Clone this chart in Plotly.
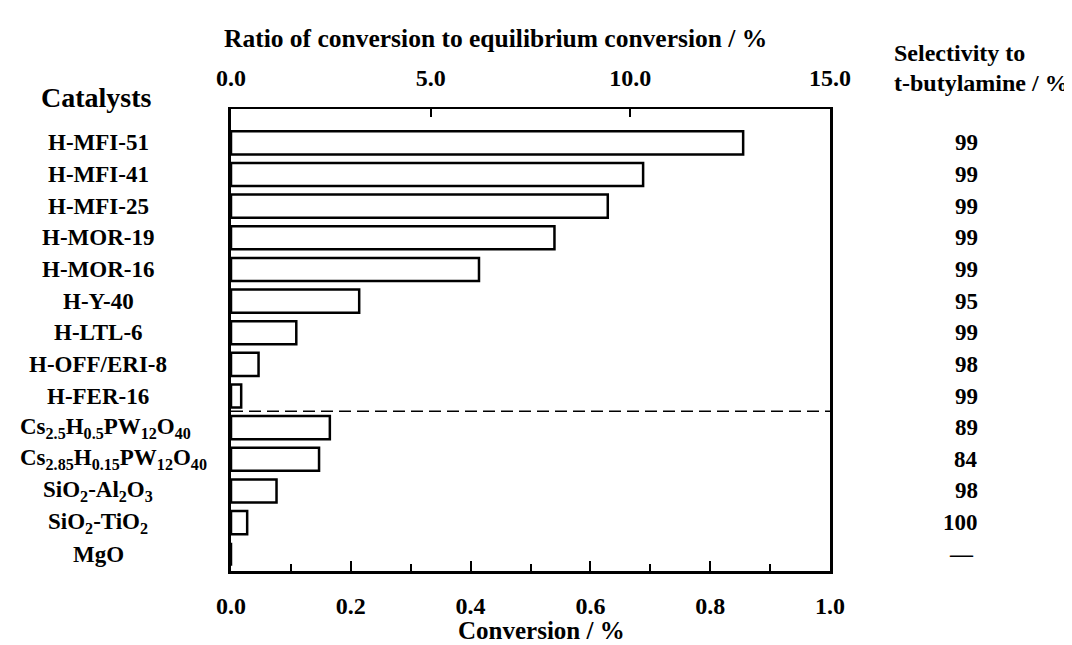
import plotly.graph_objects as go

# ---- data ----
catalysts = [
    "H-MFI-51", "H-MFI-41", "H-MFI-25", "H-MOR-19", "H-MOR-16", "H-Y-40",
    "H-LTL-6", "H-OFF/ERI-8", "H-FER-16",
    "Cs<sub>2.5</sub>H<sub>0.5</sub>PW<sub>12</sub>O<sub>40</sub>",
    "Cs<sub>2.85</sub>H<sub>0.15</sub>PW<sub>12</sub>O<sub>40</sub>",
    "SiO<sub>2</sub>-Al<sub>2</sub>O<sub>3</sub>",
    "SiO<sub>2</sub>-TiO<sub>2</sub>",
    "MgO",
]
conversion = [0.855, 0.688, 0.629, 0.540, 0.414, 0.214, 0.109, 0.046, 0.017,
              0.165, 0.147, 0.076, 0.027, 0.0]
selectivity = ["99", "99", "99", "99", "99", "95", "99", "98", "99",
               "89", "84", "98", "100", "\u2014"]
bottom_ticks = [0.0, 0.2, 0.4, 0.6, 0.8, 1.0]
top_ticks = [0.0, 5.0, 10.0, 15.0]
last_zeolite = "H-FER-16"

# ---- layout helpers ----
W, H = 1072, 645
L, R, T, B = 223, 822, 101, 563
def px_x(p):
    return (p - L) / (R - L)
def px_y(p):
    return (B - p) / (B - T)

FONT = "Liberation Serif"
def f(size):
    return dict(family=FONT, size=size, color="black", weight="bold")

fig = go.Figure()
fig.add_trace(go.Bar(
    x=conversion, y=list(range(len(catalysts))), orientation="h",
    width=0.73,
    marker=dict(color="white", line=dict(color="black", width=2.5)),
    showlegend=False, hoverinfo="skip",
))
# empty trace so that the top (ratio) axis is drawn
fig.add_trace(go.Scatter(x=[], y=[], xaxis="x2", yaxis="y",
                         showlegend=False, hoverinfo="skip"))

annotations = []
wide_labels = {9, 10}
for i, name in enumerate(catalysts):
    if i in wide_labels:
        annotations.append(dict(x=px_x(10), xref="paper", y=i, yref="y",
                                text=name, showarrow=False, xanchor="left",
                                yanchor="middle", font=f(23)))
    else:
        annotations.append(dict(x=px_x(90), xref="paper", y=i, yref="y",
                                text=name, showarrow=False, xanchor="center",
                                yanchor="middle", font=f(23)))
for i, s in enumerate(selectivity):
    annotations.append(dict(x=px_x(972 if s != "\u2014" else 968), xref="paper",
                            y=i, yref="y", text=s, showarrow=False,
                            xanchor="right", yanchor="middle", font=f(23)))

annotations += [
    dict(x=px_x(88), y=px_y(89), xref="paper", yref="paper", text="Catalysts",
         showarrow=False, xanchor="center", yanchor="middle", font=f(28)),
    dict(x=px_x(487), y=px_y(30), xref="paper", yref="paper",
         text="Ratio of conversion to equilibrium conversion / %",
         showarrow=False, xanchor="center", yanchor="middle", font=f(25.5)),
    dict(x=px_x(533), y=px_y(622), xref="paper", yref="paper",
         text="Conversion / %", showarrow=False, xanchor="center",
         yanchor="middle", font=f(25)),
    dict(x=px_x(884), y=px_y(45), xref="paper", yref="paper",
         text="Selectivity to", showarrow=False, xanchor="left",
         yanchor="middle", font=f(24)),
    dict(x=px_x(884), y=px_y(75), xref="paper", yref="paper",
         text="t-butylamine / %", showarrow=False, xanchor="left",
         yanchor="middle", font=f(24)),
]

sep = catalysts.index(last_zeolite) + 0.48
fig.add_shape(type="line", xref="paper", x0=0, x1=1, yref="y", y0=sep, y1=sep,
              line=dict(color="black", width=1.6, dash="12px,6px"))

fig.update_layout(
    width=W, height=H, autosize=False,
    margin=dict(l=L, r=W - R, t=T, b=H - B, pad=0),
    paper_bgcolor="white", plot_bgcolor="white",
    annotations=annotations,
    xaxis=dict(
        range=[0, 1.0], showgrid=False, zeroline=False,
        showline=True, linecolor="black", linewidth=2.5,
        ticks="inside", ticklen=10, tickwidth=2, tickcolor="black",
        tickvals=bottom_ticks, ticktext=[f"{v:.1f}" for v in bottom_ticks],
        tickfont=f(24), ticklabelstandoff=11,
        minor=dict(ticks="inside", ticklen=7, tickwidth=2, tickcolor="black",
                   dtick=0.1, tick0=0, showgrid=False),
    ),
    xaxis2=dict(
        overlaying="x", side="top", anchor="y", range=[0, 15.0],
        showgrid=False, zeroline=False, showline=True, linecolor="black",
        linewidth=1.6, ticks="inside", ticklen=8, tickwidth=2,
        tickcolor="black", tickvals=top_ticks,
        ticktext=[f"{v:.1f}" for v in top_ticks],
        tickfont=f(24), ticklabelstandoff=12,
    ),
    yaxis=dict(
        range=[len(catalysts) - 0.47, -1.07], showgrid=False, zeroline=False,
        showticklabels=False, ticks="", showline=True, mirror=True,
        linecolor="black", linewidth=2.5,
    ),
)

fig.write_html("out.html")
